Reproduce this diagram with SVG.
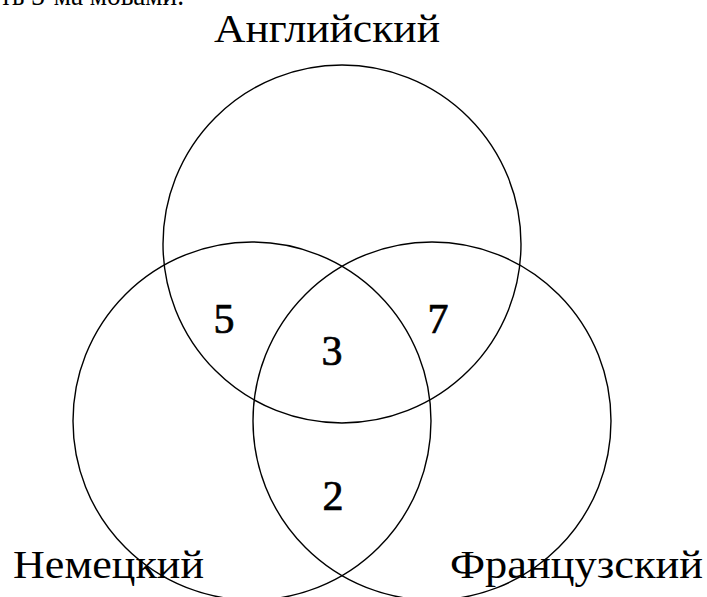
<svg xmlns="http://www.w3.org/2000/svg" width="707" height="597" viewBox="0 0 707 597">
<style>
.c{fill:none;stroke:#000;stroke-width:1.4}
.t{font-family:"Liberation Serif","DejaVu Serif",serif;fill:#000}
.n{font-size:42px;text-anchor:middle;stroke:#000;stroke-width:0.7}
.l{font-size:40px}
</style>
<rect width="707" height="597" fill="#fff"/>
<text class="t" x="0" y="5" font-size="30" textLength="184" lengthAdjust="spacingAndGlyphs">ть 3-ма мовами.</text>
<g id="connectors"></g>
<g id="english"><circle class="c" cx="342" cy="244" r="179"/><text class="t l" x="214" y="42" textLength="226" lengthAdjust="spacingAndGlyphs">Английский</text></g>
<g id="german"><circle class="c" cx="252" cy="421" r="179"/><text class="t l" x="13" y="578" textLength="191" lengthAdjust="spacingAndGlyphs">Немецкий</text></g>
<g id="french"><circle class="c" cx="432" cy="421" r="179"/><text class="t l" x="450" y="578" textLength="253" lengthAdjust="spacingAndGlyphs">Французский</text></g>
<g id="n5"><text class="t n" x="224" y="333">5</text></g>
<g id="n3"><text class="t n" x="332" y="365">3</text></g>
<g id="n7"><text class="t n" x="438" y="333">7</text></g>
<g id="n2"><text class="t n" x="333" y="510">2</text></g>
</svg>
